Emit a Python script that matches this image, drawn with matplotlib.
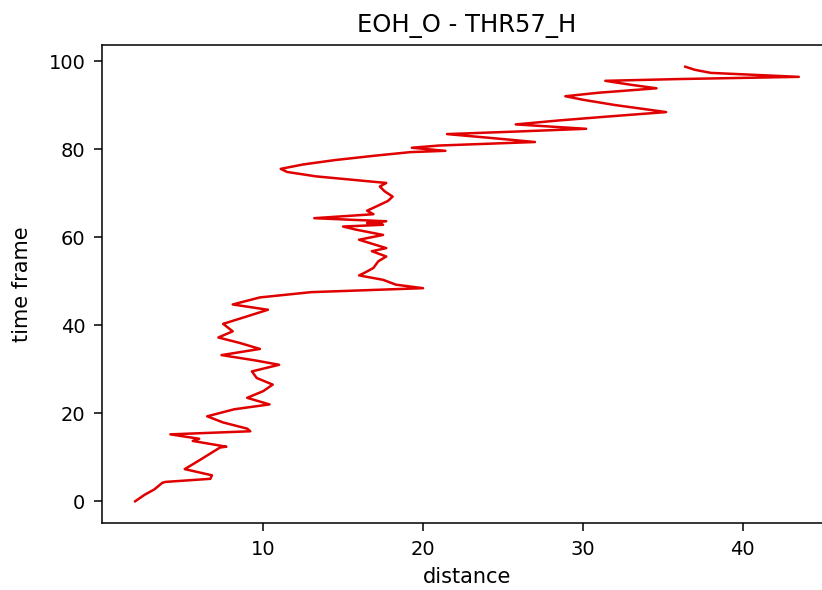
import matplotlib.pyplot as plt

# Distancia EOH_O - THR57_H ao longo da simulacao

time_frame = [0, 1.5, 2.7, 4.2, 4.4, 5.1, 5.9, 7.3, 9.5, 12.2, 12.4, 13.7, 14.2, 15.2, 15.9,
              16.5, 17.9, 19.3, 20.9, 22.0, 23.5, 25.0, 26.5, 28.0, 29.5, 31.0, 32.0, 33.2,
              34.6, 36.0, 37.2, 38.6, 40.3, 42.0, 43.5, 44.7, 46.3, 47.5, 48.4, 49.2, 50.3,
              51.3, 52.0, 53.0, 54.5, 55.6, 56.8, 57.5, 59.4, 60.5, 61.7, 62.4, 62.8, 63.2,
              63.6, 64.3, 65.2, 66.0, 67.0, 68.2, 69.2, 70.4, 71.5, 72.3, 73.8, 74.8, 75.5,
              76.5, 77.5, 78.5, 79.3, 79.6, 80.3, 80.8, 81.6, 82.6, 83.4, 84.0, 84.6, 85.6,
              86.5, 87.4, 88.4, 90.0, 91.2, 92.0, 92.8, 93.8, 94.6, 95.5, 95.9, 96.4, 97.3,
              98.0, 98.7]
distance = [2.0, 2.6, 3.2, 3.7, 3.9, 6.7, 6.8, 5.1, 6.1, 7.3, 7.7, 5.6, 6.0, 4.2, 9.2,
            9.0, 7.5, 6.5, 8.2, 10.4, 9.0, 10.0, 10.6, 9.6, 9.3, 11.0, 9.5, 7.4,
            9.8, 8.5, 7.2, 8.1, 7.5, 9.0, 10.3, 8.1, 9.8, 13.0, 20.0, 18.3, 17.5,
            16.0, 16.4, 16.9, 17.2, 17.7, 16.8, 17.7, 16.0, 17.5, 15.8, 15.0, 17.5, 16.5,
            17.7, 13.2, 16.9, 16.5, 17.1, 17.8, 18.1, 17.6, 17.3, 17.7, 13.3, 11.5, 11.1,
            12.5, 14.5, 17.0, 19.2, 21.4, 19.3, 21.0, 27.0, 24.0, 21.5, 26.0, 30.2, 25.8,
            28.5, 31.6, 35.2, 32.0, 30.0, 28.9, 31.0, 34.6, 33.0, 31.4, 36.0, 43.5, 38.0,
            37.0, 36.4]

fig = plt.figure(figsize=(8.22, 5.9), dpi=100)
ax = fig.add_axes([102/822, 1 - 523/590, 730/822, 478/590])   # eixo cortado a direita

ax.plot(distance, time_frame, color='#e00000', linewidth=1.8)
ax.set_title('EOH_O - THR57_H', fontsize=17.5, pad=9)
ax.set_xlabel('distance', fontsize=15, labelpad=6)
ax.set_ylabel('time frame', fontsize=15, labelpad=12)
ax.set_xticks([10, 20, 30, 40])
ax.set_yticks([0, 20, 40, 60, 80, 100])
ax.tick_params(labelsize=14, length=6, width=1.1, pad=6)
ax.spines['right'].set_visible(False)   # fica fora da imagem
for s in ax.spines.values():
    s.set_linewidth(1.1)

plt.savefig('out.png', dpi=100)
